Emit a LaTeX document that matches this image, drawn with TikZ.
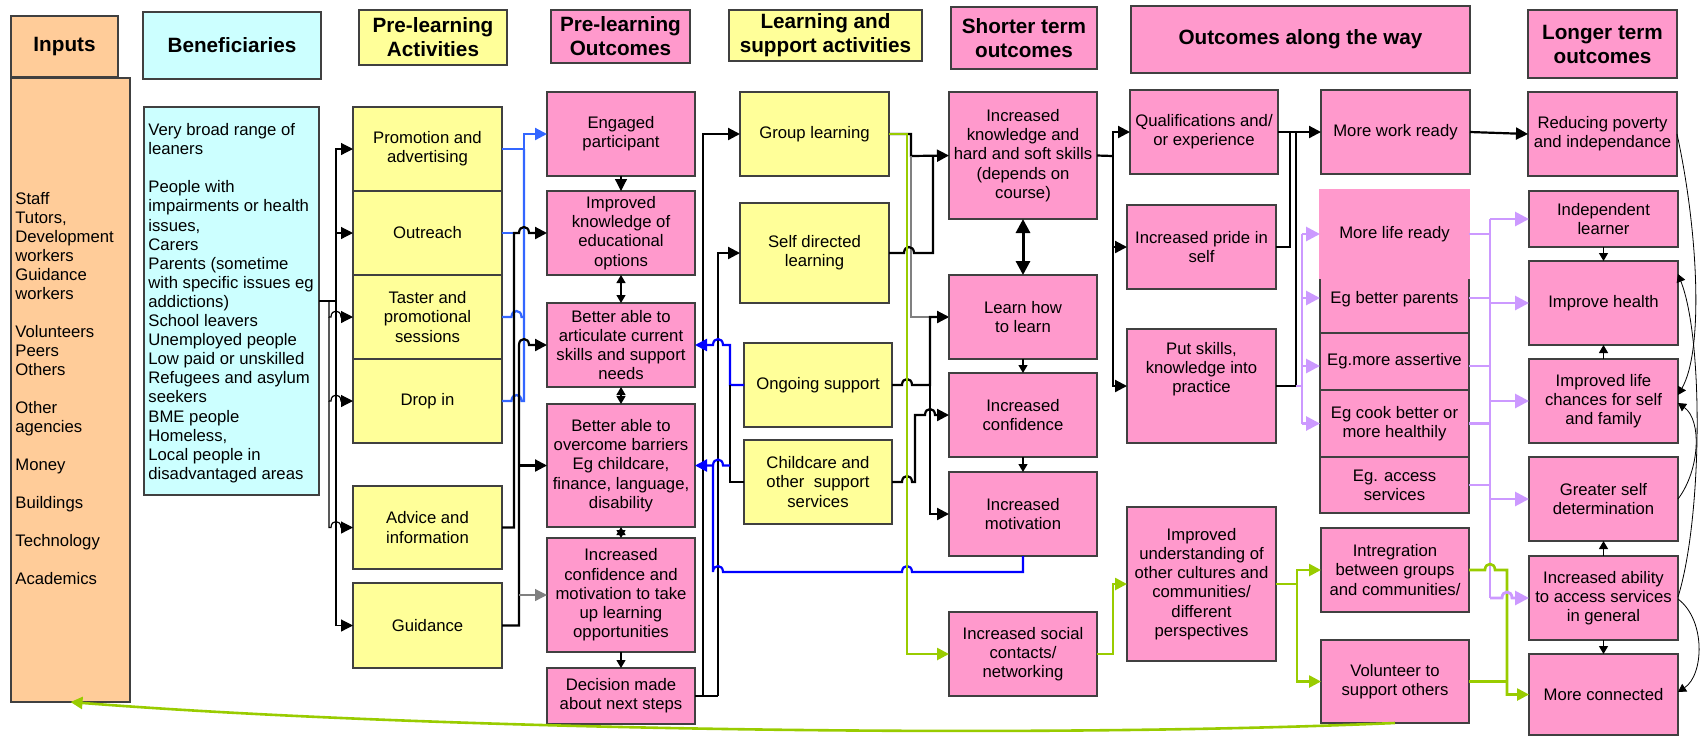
\documentclass[tikz,border=0pt]{standalone}
\usepackage{fontspec}
\setmainfont{Liberation Sans}
\usetikzlibrary{arrows.meta}
\definecolor{pinkc}{HTML}{FF99CC}
\definecolor{yelc}{HTML}{FFFF99}
\definecolor{cyc}{HTML}{CCFFFF}
\definecolor{orc}{HTML}{FFCC99}
\definecolor{bord}{HTML}{404040}
\definecolor{blueL}{HTML}{3366FF}
\definecolor{blueD}{HTML}{0000FF}
\definecolor{lavc}{HTML}{CC99FF}
\definecolor{grc}{HTML}{99CC00}
\newcommand\bx[7]{\node[#6, minimum width={(#4-#2)*0.5pt}, minimum height={(#5-#3)*0.5pt}] (#1) at ({(#2+#4)/2},{(#3+#5)/2}) {#7};}
\tikzset{
 bxs/.style={draw=bord, line width=0.6pt, inner sep=0pt, outer sep=0pt, align=center, font=\fontsize{8.35}{9.6}\selectfont},
 pk/.style={bxs, fill=pinkc},
 yl/.style={bxs, fill=yelc},
 cy/.style={bxs, fill=cyc},
 og/.style={bxs, fill=orc},
 hd/.style={font=\bfseries\fontsize{10.35}{12}\selectfont},
 ln/.style={line width=0.6pt},
 lnk/.style={line width=1.1pt},
 ar/.style={-{Triangle[length=6pt,width=6pt]}},
 sar/.style={-{Triangle[length=4pt,width=4.5pt]}},
 dar/.style={{Triangle[length=4pt,width=4.5pt]}-{Triangle[length=4pt,width=4.5pt]}},
 lar/.style={-{Triangle[length=7pt,width=7pt]}},
 bL/.style={draw=blueL, line width=1.1pt},
 bD/.style={draw=blueD, line width=1.1pt},
 lv/.style={draw=lavc, line width=1.4pt},
 gn/.style={draw=grc, line width=1.3pt},
 jr/.style 2 args={insert path={-- ({#1-5},#2) .. controls ({#1-5},{#2-8}) and ({#1+5},{#2-8}) .. ({#1+5},#2)}},
 jl/.style 2 args={insert path={-- ({#1+5},#2) .. controls ({#1+5},{#2-8}) and ({#1-5},{#2-8}) .. ({#1-5},#2)}},
}
\begin{document}
\begin{tikzpicture}[x=0.5pt,y=-0.5pt]
\fill[white] (0,0) rectangle (1705,736);
\useasboundingbox (0,0) rectangle (1705,736);
% headers
\bx{inH}{11}{16}{118}{77}{og,hd}{Inputs}
\bx{benH}{143}{12}{321}{79}{cy,hd}{Beneficiaries}
\bx{paH}{359}{10}{507}{65}{yl,hd}{Pre-learning\\Activities}
\bx{poH}{551}{10}{690}{63}{pk,hd}{Pre-learning\\Outcomes}
\bx{lsH}{729}{10}{922}{61}{yl,hd}{Learning and\\support activities}
\bx{stH}{951}{7}{1097}{69}{pk,hd}{Shorter term\\outcomes}
\bx{owH}{1131}{6}{1470}{73}{pk,hd}{Outcomes along the way}
\bx{ltH}{1528}{10}{1677}{78}{pk,hd}{Longer term\\outcomes}
% inputs and beneficiaries
\bx{inputs}{11}{78}{130}{702}{og}{}
\node[anchor=north west, align=left, inner sep=0pt, font=\fontsize{8.35}{9.5}\selectfont] (inT) at (15,192) {Staff\\Tutors,\\Development\\workers\\Guidance\\workers\\[9.5pt]Volunteers\\Peers\\Others\\[9.5pt]Other\\agencies\\[9.5pt]Money\\[9.5pt]Buildings\\[9.5pt]Technology\\[9.5pt]Academics};
\bx{ben}{144}{107}{319}{495}{cy}{}
\node[anchor=north west, align=left, inner sep=0pt, font=\fontsize{8.35}{9.55}\selectfont] (benT) at (148,123) {Very broad range of\\leaners\\[9.55pt]People with\\impairments or health\\issues,\\Carers\\Parents (sometime\\with specific issues eg\\addictions)\\School leavers\\Unemployed people\\Low paid or unskilled\\Refugees and asylum\\seekers\\BME people\\Homeless,\\Local people in\\disadvantaged areas};
% pre-learning activities
\bx{promo}{353}{107}{502}{191}{yl}{Promotion and\\advertising}
\bx{outreach}{353}{191}{502}{275}{yl}{Outreach}
\bx{taster}{353}{275}{502}{359}{yl}{Taster and\\promotional\\sessions}
\bx{dropin}{353}{359}{502}{443}{yl}{Drop in}
\bx{advice}{353}{486}{502}{569}{yl}{Advice and\\information}
\bx{guidance}{353}{583}{502}{668}{yl}{Guidance}
% pre-learning outcomes
\bx{engaged}{547}{92}{695}{176}{pk}{Engaged\\participant}
\bx{improved}{547}{191}{695}{275}{pk}{Improved\\knowledge of\\educational\\options}
\bx{artic}{547}{303}{695}{387}{pk}{Better able to\\articulate current\\skills and support\\needs}
\bx{overcome}{547}{404}{695}{527}{pk}{Better able to\\overcome barriers\\Eg childcare,\\finance, language,\\disability}
\bx{confmot}{547}{538}{695}{652}{pk}{Increased\\confidence and\\motivation to take\\up learning\\opportunities}
\bx{decision}{547}{668}{695}{724}{pk}{Decision made\\about next steps}
% learning and support
\bx{group}{740}{92}{889}{176}{yl}{Group learning}
\bx{selfdir}{740}{203}{889}{303}{yl}{Self directed\\learning}
\bx{ongoing}{744}{343}{892}{427}{yl}{Ongoing support}
\bx{childcare}{744}{440}{892}{524}{yl}{Childcare and\\other\ \ support\\services}
% shorter term
\bx{knowl}{949}{92}{1097}{219}{pk}{Increased\\knowledge and\\hard and soft skills\\(depends on\\course)}
\bx{learnhow}{949}{275}{1097}{359}{pk}{Learn how\\to learn}
\bx{conf}{949}{373}{1097}{457}{pk}{Increased\\confidence}
\bx{motiv}{949}{472}{1097}{556}{pk}{Increased\\motivation}
\bx{social}{949}{612}{1097}{696}{pk}{Increased social\\contacts/\\networking}
% outcomes along the way
\bx{qual}{1130}{90}{1278}{174}{pk}{Qualifications and/\\or experience}
\bx{pride}{1127}{205}{1276}{289}{pk}{Increased pride in\\self}
\bx{putsk}{1127}{329}{1276}{443}{pk}{Put skills,\\knowledge into\\practice\\[9pt]}
\bx{underst}{1127}{507}{1276}{661}{pk}{Improved\\understanding of\\other cultures and\\communities/\\different\\perspectives}
\bx{workready}{1321}{90}{1470}{174}{pk}{More work ready}
\bx{parents}{1320}{276}{1469}{333}{pk}{Eg better parents\\[-2.1pt]}
\bx{liferdy}{1320}{190}{1469}{278}{pk,draw=pinkc}{More life ready}
\bx{assert}{1320}{333}{1469}{390}{pk}{Eg.more assertive}
\bx{cook}{1320}{390}{1469}{457}{pk}{Eg cook better or\\more healthily}
\bx{access}{1320}{457}{1469}{513}{pk}{Eg. access\\services}
\bx{integ}{1321}{528}{1469}{612}{pk}{Intregration\\between groups\\and communities/}
\bx{volunt}{1321}{640}{1469}{723}{pk}{Volunteer to\\support others}
% longer term
\bx{poverty}{1528}{92}{1677}{176}{pk}{Reducing poverty\\and independance}
\bx{indep}{1529}{191}{1678}{247}{pk}{Independent\\learner}
\bx{health}{1529}{261}{1678}{345}{pk}{Improve health}
\bx{lifech}{1529}{359}{1678}{443}{pk}{Improved life\\chances for self\\and family}
\bx{selfdet}{1529}{457}{1678}{541}{pk}{Greater self\\determination}
\bx{ability}{1529}{556}{1678}{640}{pk}{Increased ability\\to access services\\in general}
\bx{connected}{1529}{654}{1678}{735}{pk}{More connected}
% ---- connectors ----
% beneficiaries fan
\draw[ln] (ben.east) -- (336,301);
\draw[ln,ar] (336,301) |- (promo.west);
\draw[ln,ar] (336,301) |- (outreach.west);
\draw[ln,ar] (336,301) |- (guidance.west);
\draw[ln,ar] (329,301) -- (329,317) [jr={336}{317}] -- (taster.west);
\draw[ln,ar] (329,317) -- (329,401) [jr={336}{401}] -- (dropin.west);
\draw[ln,ar] (329,401) -- (329,527.5) [jr={336}{527.5}] -- (advice.west);
% activities to pre-learning outcomes
\draw[bL,ar] (promo.east) -- (524,149) -- (524,134) -- (engaged.west);
\draw[bL] (outreach.east) -- (514,233);
\draw[bL] (taster.east) [jr={516.5}{317}] -- (524,317);
\draw[bL] (dropin.east) [jr={516.5}{401}] -- (524,401) -- (524,149);
\draw[lnk,ar] (advice.east) -- (514,527.5) -- (514,233) [jr={524}{233}] -- (improved.west);
\draw[lnk,ar] (guidance.east) -- (519,625.5) -- (519,345) [jr={524}{345}] -- (artic.west);
\draw[lnk,ar] (519,465.5) -- (overcome.west);
\draw[ln,draw=gray,ar] (519,595) -- (confmot.west);
% pre-learning outcomes internal
\draw[ln,ar] (engaged.south) -- (improved.north);
\draw[ln,dar] (improved.south) -- (artic.north);
\draw[ln,dar] (artic.south) -- (overcome.north);
\draw[ln,dar] (overcome.south) -- (confmot.north);
\draw[ln,sar] (confmot.south) -- (decision.north);
% decision to learning
\draw[lnk] (decision.east) -- (718,696);
\draw[lnk,ar] (703,696) |- (group.west);
\draw[lnk,ar] (718,696) |- (selfdir.west);
% blue feedback
\draw[bD,ar] (ongoing.west) -- (730,385) -- (730,345) [jl={718}{345}] -- (artic.east);
\draw[lnk] (730,385) -- (730,482) -- (childcare.west);
\draw[bD,ar] (730,465.5) [jl={718}{465.5}] -- (overcome.east);
\draw[bD] (motiv.south) -- (1023,572) [jl={907}{572}] [jl={718}{572}] -- (713,465.5);
% learning to shorter term
\draw[lnk,ar] (group.east) -- (911,134) -- (911,156) -- (knowl.west);
\draw[ln,draw=gray,ar] (911,156) -- (911,317) -- (learnhow.west);
\draw[lnk] (selfdir.east) [jr={909}{253}] -- (933,253) -- (933,156);
\draw[lnk,ar] (ongoing.east) [jr={907}{385}] -- (930,385) -- (930,317) -- (learnhow.west);
\draw[lnk,ar] (930,385) -- (930,514) -- (motiv.west);
\draw[lnk,ar] (childcare.east) [jr={907}{482}] -- (915,482) -- (915,415) [jr={930}{415}] -- (conf.west);
\draw[gn,ar] (group.east) -- (907,134) |- (social.west);
% shorter term internal
\draw[line width=1.5pt,{Triangle[length=7pt,width=7pt]}-{Triangle[length=7pt,width=7pt]}] (knowl.south) -- (learnhow.north);
\draw[ln,sar] (learnhow.south) -- (conf.north);
\draw[ln,sar] (conf.south) -- (motiv.north);
% shorter to along the way
\draw[lnk] (knowl.east) -- (1113,156);
\draw[lnk,ar] (1113,156) |- (qual.west);
\draw[lnk,ar] (1113,156) |- (pride.west);
\draw[lnk,ar] (1113,156) |- (putsk.west);
\draw[gn,ar] (social.east) -- (1113,654) |- (underst.west);
% along the way to next
\draw[lnk,ar] (qual.east) -- (workready.west);
\draw[lnk] (pride.east) -- (1290,247) -- (1290,132);
\draw[lnk] (putsk.east) -- (1296,386) -- (1296,132);
\draw[lv] (1296,386) -- (1302,386);
\draw[lv] (1302,234) -- (1302,423.5);
\draw[lv,lar] (1302,234) -- (liferdy.west);
\draw[lv,lar] (1302,298) -- (parents.west |- 1302,298);
\draw[lv,lar] (1302,366) -- (assert.west |- 1302,366);
\draw[lv,lar] (1302,423.5) -- (cook.west);
\draw[gn,ar] (underst.east) -- (1297,584) |- (integ.west);
\draw[gn,ar] (1297,584) |- (volunt.west);
% to longer term
\draw[lnk,ar] (workready.east) -- (poverty.west);
\draw[lv] (liferdy.east) -- (1490,234);
\draw[lv] (parents.east |- 1490,298) -- (1490,298);
\draw[lv] (assert.east |- 1490,366) -- (1490,366);
\draw[lv] (cook.east) -- (1490,423.5);
\draw[lv] (access.east) -- (1490,485);
\draw[lv] (1490,219) -- (1490,598);
\draw[lv,lar] (1490,219) -- (indep.west);
\draw[lv,lar] (1490,303) -- (health.west);
\draw[lv,lar] (1490,401) -- (lifech.west);
\draw[lv,lar] (1490,499) -- (selfdet.west);
\draw[gn,ar] (integ.east) [jr={1490}{570}] -- (1507,570) -- (1507,694.5) -- (connected.west);
\draw[gn] (volunt.east) -- (1507,681.5);
\draw[lv,lar] (1490,598) [jr={1507}{598}] -- (ability.west);
% feedback to inputs
\draw[gn,ar] (volunt.south) .. controls (1000,740) and (400,728) .. (inputs.south);
% longer term internal
\draw[ln,sar] (indep.south) -- (health.north);
\draw[ln,sar] (lifech.north) -- (health.south);
\draw[ln,sar] (ability.north) -- (selfdet.south);
\draw[ln,sar] (ability.south) -- (connected.north);
\draw[thin,sar] (poverty.east) .. controls (1698,230) and (1704,350) .. (lifech.east |- 0,395);
\draw[thin,sar] (ability.east |- 0,597) .. controls (1702,520) and (1704,340) .. (health.east |- 0,274);
\draw[thin,sar] (selfdet.east) .. controls (1700,470) and (1702,420) .. (lifech.east |- 0,403);
\draw[thin,sar] (ability.east |- 0,599) .. controls (1706,620) and (1704,675) .. (connected.east |- 0,692);
\end{tikzpicture}
\end{document}
